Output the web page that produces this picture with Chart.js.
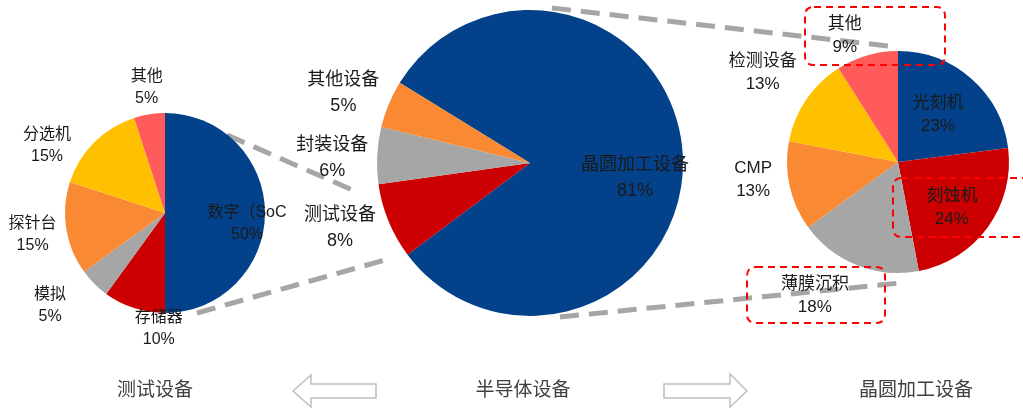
<!DOCTYPE html>
<html><head><meta charset="utf-8">
<script src="https://cdn.jsdelivr.net/npm/chart.js@4.4.1/dist/chart.umd.min.js"></script>
<style>
html,body{margin:0;padding:0;background:#fff;width:1023px;height:408px;overflow:hidden}
canvas{position:absolute;left:0;top:0}
</style></head><body>
<canvas id="c1" width="1023" height="408"></canvas>
<canvas id="c2" width="1023" height="408"></canvas>
<canvas id="c3" width="1023" height="408"></canvas>
<script>
// ---- data ----
const testLabels = ['数字（SoC', '存储器', '模拟', '探针台', '分选机', '其他'];
const testValues = [50, 10, 5, 15, 15, 5];
const semiLabels = ['晶圆加工设备', '测试设备', '封装设备', '其他设备'];
const semiValues = [81, 8, 6, 5];
const waferLabels = ['光刻机', '刻蚀机', '薄膜沉积', 'CMP', '检测设备', '其他'];
const waferValues = [23, 24, 18, 13, 13, 9];
const bottomTitles = ['测试设备', '半导体设备', '晶圆加工设备'];

// ---- styles ----
const BLUE = '#03428A', RED = '#CC0000', GRAY = '#A6A6A6', ORANGE = '#F98A33', YELLOW = '#FFC000', PINK = '#FF5B5B';
const FONT = '"Liberation Sans", "Noto Sans CJK SC", sans-serif';

const testLayout = [{k:0.82,dx:0,dy:11},{k:1.3,dx:34,dy:-8},{k:1.3,dx:-23,dy:1},{k:1.3,dx:-4,dy:1},{k:1.3,dx:-26,dy:25},{k:1.3,dx:2,dy:3}];
const semiLayout = [{k:0.7,dx:-2,dy:20},{k:1.3,dx:-6,dy:-11},{k:1.3,dx:1,dy:5},{k:1.3,dx:-3,dy:6}];
const waferLayout = [{k:0.6,dx:-4,dy:3},{k:0.6,dx:0,dy:7},{k:1.3,dx:-30,dy:0},{k:1.3,dx:-4,dy:-14},{k:1.3,dx:-16,dy:-8},{k:1.3,dx:-13,dy:12}];

function labelPlugin(layout, size, lh) {
  return {
    id: 'lbl',
    afterDatasetsDraw(chart) {
      const ctx = chart.ctx;
      const meta = chart.getDatasetMeta(0);
      const ds = chart.data.datasets[0];
      ctx.save();
      ctx.font = size + 'px ' + FONT;
      ctx.fillStyle = '#1a1a1a';
      ctx.textAlign = 'center';
      ctx.textBaseline = 'middle';
      meta.data.forEach((arc, i) => {
        const L = layout[i];
        const mid = (arc.startAngle + arc.endAngle) / 2;
        const R = arc.outerRadius * L.k;
        const x = arc.x + Math.cos(mid) * R + L.dx;
        const y = arc.y + Math.sin(mid) * R + L.dy;
        ctx.fillText(chart.data.labels[i], x, y - lh / 2);
        ctx.fillText(ds.data[i] + '%', x, y + lh / 2);
      });
      ctx.restore();
    }
  };
}

function rr(ctx, x, y, w, h, r) {
  ctx.beginPath();
  ctx.moveTo(x + r, y);
  ctx.lineTo(x + w - r, y);
  ctx.quadraticCurveTo(x + w, y, x + w, y + r);
  ctx.lineTo(x + w, y + h - r);
  ctx.quadraticCurveTo(x + w, y + h, x + w - r, y + h);
  ctx.lineTo(x + r, y + h);
  ctx.quadraticCurveTo(x, y + h, x, y + h - r);
  ctx.lineTo(x, y + r);
  ctx.quadraticCurveTo(x, y, x + r, y);
  ctx.closePath();
}

const backgroundDeco = {
  id: 'bgdeco',
  beforeDatasetsDraw(chart) {
    const ctx = chart.ctx;
    ctx.save();
    // connectors
    ctx.strokeStyle = '#A6A6A6';
    ctx.lineWidth = 5;
    ctx.setLineDash([19, 10]);
    [[227,135,357,192],[197,313,392,258],[552,8,897,47],[560,317,900,283]].forEach(l => {
      ctx.beginPath(); ctx.moveTo(l[0], l[1]); ctx.lineTo(l[2], l[3]); ctx.stroke();
    });
    ctx.setLineDash([]);
    // arrows
    ctx.strokeStyle = '#BFBFBF';
    ctx.lineWidth = 1.5;
    ctx.fillStyle = '#fff';
    ctx.beginPath();
    ctx.moveTo(293, 391); ctx.lineTo(311, 375); ctx.lineTo(311, 384); ctx.lineTo(376, 384);
    ctx.lineTo(376, 398); ctx.lineTo(311, 398); ctx.lineTo(311, 407); ctx.closePath();
    ctx.fill(); ctx.stroke();
    ctx.beginPath();
    ctx.moveTo(747, 391); ctx.lineTo(730, 374); ctx.lineTo(730, 384); ctx.lineTo(664, 384);
    ctx.lineTo(664, 398); ctx.lineTo(730, 398); ctx.lineTo(730, 407); ctx.closePath();
    ctx.fill(); ctx.stroke();
    // bottom titles
    ctx.fillStyle = '#404040';
    ctx.font = '19px ' + FONT;
    ctx.textAlign = 'center';
    ctx.textBaseline = 'middle';
    const xs = [155, 523, 916];
    bottomTitles.forEach((t, i) => ctx.fillText(t, xs[i], 391));
    ctx.restore();
  }
};

const redBoxes = {
  id: 'redboxes',
  afterDraw(chart) {
    const ctx = chart.ctx;
    ctx.save();
    ctx.strokeStyle = '#FF0000';
    ctx.lineWidth = 2;
    ctx.setLineDash([7, 5]);
    rr(ctx, 805, 7, 140, 58, 9); ctx.stroke();
    rr(ctx, 893, 178, 150, 59, 9); ctx.stroke();
    rr(ctx, 747, 267, 138, 56, 9); ctx.stroke();
    ctx.restore();
  }
};

function makePie(id, labels, values, colors, rotation, padding, plugins) {
  return new Chart(document.getElementById(id), {
    type: 'pie',
    data: { labels: labels, datasets: [{ data: values, backgroundColor: colors, borderWidth: 0 }] },
    options: {
      responsive: false, animation: false, rotation: rotation,
      layout: { padding: padding },
      plugins: { legend: { display: false }, tooltip: { enabled: false } }
    },
    plugins: plugins
  });
}

makePie('c1', testLabels, testValues, [BLUE, RED, GRAY, ORANGE, YELLOW, PINK], 0,
  { left: 65, right: 758, top: 113, bottom: 95 }, [backgroundDeco, labelPlugin(testLayout, 16, 22)]);
makePie('c2', semiLabels, semiValues, [BLUE, RED, GRAY, ORANGE], 301.6,
  { left: 377, right: 340, top: 10, bottom: 92 }, [labelPlugin(semiLayout, 18, 26)]);
makePie('c3', waferLabels, waferValues, [BLUE, RED, GRAY, ORANGE, YELLOW, PINK], 0,
  { left: 787, right: 14, top: 51, bottom: 135 }, [labelPlugin(waferLayout, 17, 23), redBoxes]);
</script>
</body></html>
